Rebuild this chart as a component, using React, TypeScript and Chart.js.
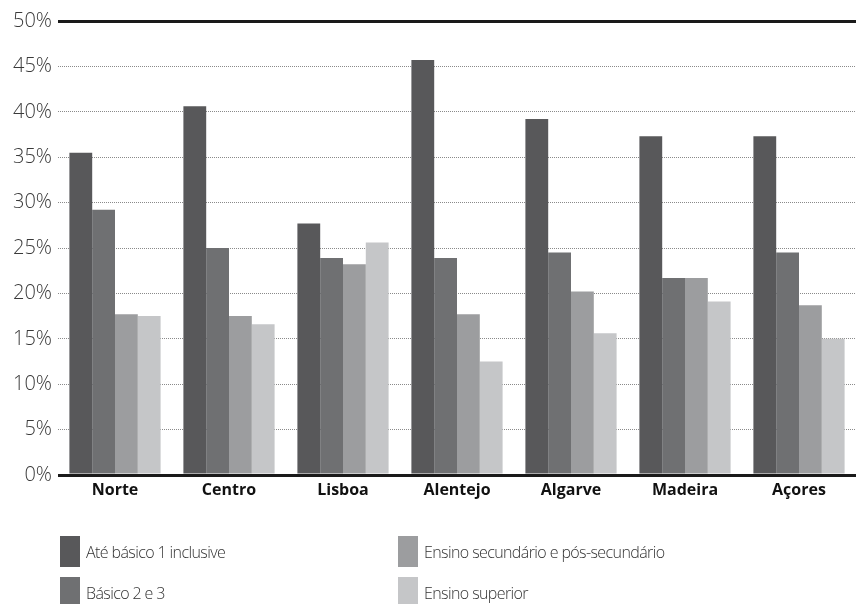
import React, { useEffect, useRef } from "react";
import { Chart, registerables } from "chart.js";

Chart.register(...registerables);

const categories = ["Norte", "Centro", "Lisboa", "Alentejo", "Algarve", "Madeira", "Açores"];
const seriesNames = [
  "Até básico 1 inclusive",
  "Básico 2 e 3",
  "Ensino secundário e pós-secundário",
  "Ensino superior",
];
const ateBasico1 = [35.5, 40.6, 27.7, 45.7, 39.2, 37.3, 37.3];
const basico23 = [29.2, 25.0, 23.9, 23.9, 24.5, 21.7, 24.5];
const secundario = [17.7, 17.5, 23.2, 17.7, 20.2, 21.7, 18.7];
const superior = [17.5, 16.6, 25.6, 12.5, 15.6, 19.1, 15.0];
const seriesValues = [ateBasico1, basico23, secundario, superior];
const colors = ["#58585a", "#6f7072", "#9c9d9f", "#c5c6c8"];
const yTicks = [0, 5, 10, 15, 20, 25, 30, 35, 40, 45, 50];

const isEdge = (ctx: any) => ctx.tick && (ctx.tick.value === 0 || ctx.tick.value === 50);

export default function App() {
  const canvasRef = useRef<HTMLCanvasElement | null>(null);

  useEffect(() => {
    document.body.style.margin = "0";
    const canvas = canvasRef.current;
    if (!canvas) return;
    const chart = new Chart(canvas, {
      type: "bar",
      data: {
        labels: categories,
        datasets: seriesValues.map((vals, i) => ({
          label: seriesNames[i],
          data: vals,
          backgroundColor: colors[i],
          borderWidth: 0,
          categoryPercentage: 0.8,
          barPercentage: 1.0,
        })),
      },
      options: {
        responsive: false,
        animation: false,
        maintainAspectRatio: false,
        layout: { padding: { top: 21, right: 0, bottom: 99, left: 0 } },
        plugins: {
          legend: { display: false },
          tooltip: { enabled: false },
        },
        scales: {
          x: {
            grid: { display: false, drawTicks: false },
            border: { display: false },
            ticks: {
              color: "#111",
              padding: 6,
              font: { family: "'Open Sans', sans-serif", size: 16, weight: "bold" },
            },
            afterFit: (scale: any) => {
              scale.height = 30;
            },
          },
          y: {
            min: 0,
            max: 50,
            afterBuildTicks: (scale: any) => {
              scale.ticks = yTicks.map((v) => ({ value: v }));
            },
            afterFit: (scale: any) => {
              scale.width = 58;
            },
            grid: {
              drawTicks: false,
              color: (ctx: any) => (isEdge(ctx) ? "#1a1a1a" : "#8a8a8a"),
              lineWidth: (ctx: any) => (isEdge(ctx) ? 3 : 1),
            },
            border: {
              display: false,
              dash: (ctx: any) => (isEdge(ctx) ? [] : [1, 1]),
            },
            ticks: {
              color: "#3a3a3a",
              padding: 6,
              font: { family: "'Open Sans', sans-serif", size: 20, weight: 300 },
              callback: (v: any) => v + "%",
            },
          },
        },
      } as any,
    });
    return () => chart.destroy();
  }, []);

  const legendItem = (i: number, left: number, top: number) => (
    <div
      key={i}
      style={{ position: "absolute", left, top, display: "flex", alignItems: "center", height: 31 }}
    >
      <div style={{ width: 20, height: 31, background: colors[i], marginRight: 6 }} />
      <span
        style={{
          fontFamily: "'Open Sans', sans-serif",
          fontWeight: 300,
          fontSize: 16,
          color: "#333",
          letterSpacing: "-0.6px",
        }}
      >
        {seriesNames[i]}
      </span>
    </div>
  );

  return (
    <div style={{ position: "relative", width: 856, height: 604 }}>
      <canvas ref={canvasRef} width={856} height={604} style={{ display: "block" }} />
      {legendItem(0, 60, 536)}
      {legendItem(1, 60, 577)}
      {legendItem(2, 398, 536)}
      {legendItem(3, 398, 577)}
    </div>
  );
}
